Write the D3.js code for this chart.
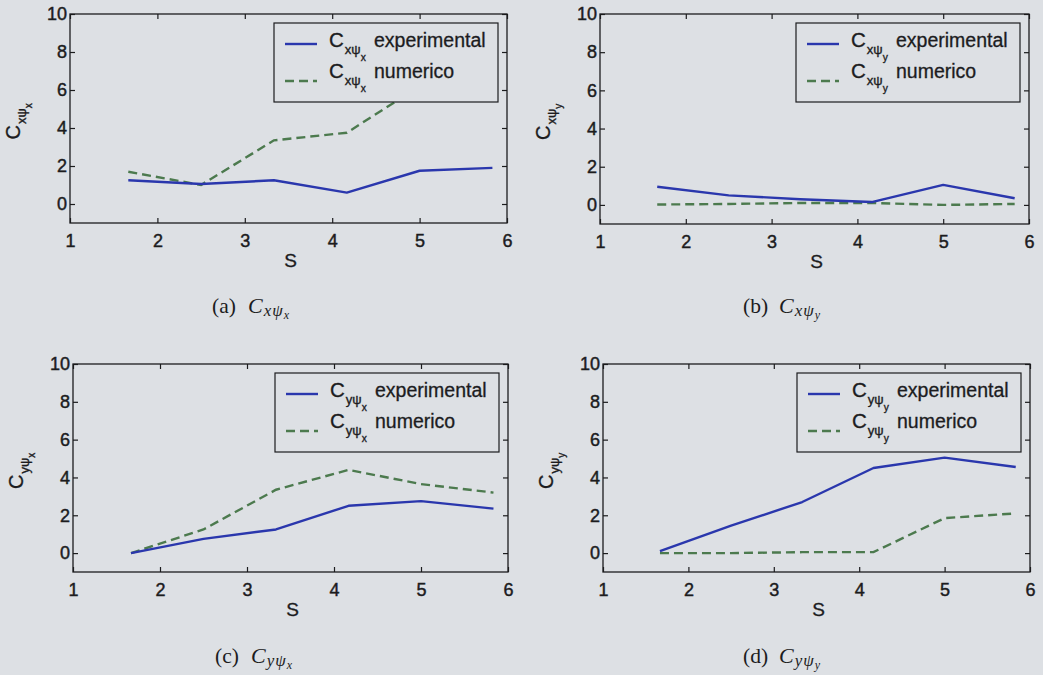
<!DOCTYPE html>
<html>
<head>
<meta charset="utf-8">
<script src="https://cdn.jsdelivr.net/npm/d3@7"></script>
<style>
  html, body { margin: 0; padding: 0; background: #dcdfe3; }
  svg { display: block; }
</style>
</head>
<body>
<svg id="fig" width="1043" height="675"></svg>
<script>
// Rotation speed S shared by all four panels
const S = [1.667, 2.5, 3.333, 4.167, 5.0, 5.833];

// Damping coefficients: experimental vs numerical
const cxpsixExp = [1.25, 1.05, 1.25, 0.6, 1.75, 1.9];
const cxpsixNum = [1.7, 1.0, 3.35, 3.75, 6.2, 7.0];
const cxpsiyExp = [0.95, 0.5, 0.3, 0.15, 1.05, 0.35];
const cxpsiyNum = [0.02, 0.05, 0.1, 0.1, 0.0, 0.05];
const cypsixExp = [0.0, 0.75, 1.25, 2.5, 2.75, 2.35];
const cypsixNum = [0.0, 1.25, 3.35, 4.4, 3.65, 3.2];
const cypsiyExp = [0.1, 1.45, 2.7, 4.5, 5.05, 4.55];
const cypsiyNum = [0.0, 0.0, 0.05, 0.05, 1.85, 2.1];

// Axis ticks
const xTicks = [1, 2, 3, 4, 5, 6];
const yTicks = [0, 2, 4, 6, 8, 10];
const xDomain = [1, 6];
const yDomain = [-1, 10];

// Panel captions / subscripts
const panelLetters = ["a", "b", "c", "d"];
const firstSub = ["xψ", "xψ", "yψ", "yψ"];
const secondSub = ["x", "y", "x", "y"];
const captionSub1 = ["xψ", "xψ", "yψ", "yψ"];
const captionSub2 = ["x", "y", "x", "y"];
const legendWords = ["experimental", "numerico"];

const panels = [
  { box: [70, 507, 14, 223], exp: cxpsixExp, num: cxpsixNum, cap: [212, 313] },
  { box: [600, 1029, 14, 224], exp: cxpsiyExp, num: cxpsiyNum, cap: [743, 313] },
  { box: [73, 508, 364, 572], exp: cypsixExp, num: cypsixNum, cap: [215, 663] },
  { box: [603, 1030, 364, 572], exp: cypsiyExp, num: cypsiyNum, cap: [743, 663] }
];

const SANS = "'Liberation Sans', Arial, sans-serif";
const SERIF = "'Liberation Serif', 'Times New Roman', serif";
const INK = "#1c1c1e";
const BG = "#dde0e4";
const BLUE = "#2a37ad";
const GREEN = "#4c7a4e";

const svg = d3.select("#fig");
svg.append("rect").attr("width", 1043).attr("height", 675).attr("fill", BG);
const defs = svg.append("defs");

// C with a two-level subscript, drawn from pieces
function subscripted(g, x, y, size, sub1, sub2, opts) {
  const t = g.append("text").attr("x", x).attr("y", y)
    .attr("font-family", opts.family)
    .attr("font-size", size).attr("fill", INK)
    .attr("stroke", INK).attr("stroke-width", 0.35);
  t.append("tspan").text("C");
  t.append("tspan").attr("font-size", size * opts.r1).attr("dy", size * opts.d1)
    .attr("dx", opts.gap || 0).text(sub1);
  t.append("tspan").attr("font-size", size * opts.r2).attr("dy", size * opts.d2).text(sub2);
  return t;
}

panels.forEach((p, i) => {
  const [x0, x1, y0, y1] = p.box;
  const x = d3.scaleLinear().domain(xDomain).range([x0, x1]);
  const y = d3.scaleLinear().domain(yDomain).range([y1, y0]);
  const g = svg.append("g");

  const clipId = "clip" + i;
  defs.append("clipPath").attr("id", clipId)
    .append("rect").attr("x", x0).attr("y", y0).attr("width", x1 - x0).attr("height", y1 - y0);

  // data lines
  const line = d3.line().x((d, k) => x(S[k])).y(d => y(d));
  const lines = g.append("g").attr("clip-path", `url(#${clipId})`);
  lines.append("path").datum(p.num).attr("d", line)
    .attr("fill", "none").attr("stroke", GREEN).attr("stroke-width", 2.4)
    .attr("stroke-dasharray", "9,5");
  lines.append("path").datum(p.exp).attr("d", line)
    .attr("fill", "none").attr("stroke", BLUE).attr("stroke-width", 2.4)
    .attr("stroke-linejoin", "round");

  // axes with inward ticks on all four sides
  const styleAxis = sel => {
    sel.select(".domain").remove();
    sel.selectAll(".tick line").attr("stroke", INK).attr("stroke-width", 1.2);
    sel.selectAll("text").attr("fill", INK).attr("font-family", SANS).attr("font-size", 18)
      .attr("stroke", INK).attr("stroke-width", 0.45);
  };
  g.append("g").attr("transform", `translate(0,${y1})`)
    .call(d3.axisBottom(x).tickValues(xTicks).tickFormat(d3.format("d"))
      .tickSizeInner(-5).tickSizeOuter(0).tickPadding(11))
    .call(styleAxis);
  g.append("g").attr("transform", `translate(0,${y0})`)
    .call(d3.axisTop(x).tickValues(xTicks).tickFormat("").tickSizeInner(-5).tickSizeOuter(0))
    .call(styleAxis);
  g.append("g").attr("transform", `translate(${x0},0)`)
    .call(d3.axisLeft(y).tickValues(yTicks).tickFormat(d3.format("d"))
      .tickSizeInner(-5).tickSizeOuter(0).tickPadding(3))
    .call(styleAxis);
  g.append("g").attr("transform", `translate(${x1},0)`)
    .call(d3.axisRight(y).tickValues(yTicks).tickFormat("").tickSizeInner(-5).tickSizeOuter(0))
    .call(styleAxis);

  g.append("rect").attr("x", x0).attr("y", y0).attr("width", x1 - x0).attr("height", y1 - y0)
    .attr("fill", "none").attr("stroke", INK).attr("stroke-width", 1.3);

  // x axis title
  g.append("text").attr("x", (x0 + x1) / 2 + 2).attr("y", y1 + 44)
    .attr("text-anchor", "middle").attr("font-family", SANS).attr("font-size", 19)
    .attr("fill", INK).attr("stroke", INK).attr("stroke-width", 0.35).text("S");

  // y axis title (rotated)
  const yl = g.append("g")
    .attr("transform", `translate(${x0 - 50},${(y0 + y1) / 2 + 1}) rotate(-90)`);
  subscripted(yl, -20, 0, 20, firstSub[i], secondSub[i],
    { family: SANS, r1: 0.65, d1: 0.3, r2: 0.5, d2: 0.3, gap: 1 });

  // legend
  const lw = 224, lh = 79;
  const lx = x1 - 9 - lw, ly = y0 + 9;
  const lg = g.append("g");
  lg.append("rect").attr("x", lx).attr("y", ly).attr("width", lw).attr("height", lh)
    .attr("fill", BG).attr("stroke", INK).attr("stroke-width", 1.2);
  [[BLUE, null], [GREEN, "9,5"]].forEach(([col, dash], r) => {
    const cy = ly + 21 + r * 37;
    lg.append("line").attr("x1", lx + 11).attr("x2", lx + 43).attr("y1", cy).attr("y2", cy)
      .attr("stroke", col).attr("stroke-width", 2.4).attr("stroke-dasharray", dash);
    const by = ly + 24 + r * 31;
    subscripted(lg, lx + 55, by, 20.5, firstSub[i], secondSub[i],
      { family: SANS, r1: 0.64, d1: 0.35, r2: 0.5, d2: 0.35, gap: 1 });
    lg.append("text").attr("x", lx + 100).attr("y", by)
      .attr("font-family", SANS).attr("font-size", 19.5).attr("fill", INK)
      .attr("stroke", INK).attr("stroke-width", 0.3)
      .text(legendWords[r]);
  });

  // caption: upright panel letter, then italic symbol with subscripts
  const [cx, cyb] = p.cap;
  g.append("text").attr("x", cx).attr("y", cyb)
    .attr("font-family", SERIF).attr("font-size", 21.5).attr("fill", INK)
    .text(`(${panelLetters[i]})`);
  const cap = g.append("text").attr("x", cx + 36).attr("y", cyb)
    .attr("font-family", SERIF).attr("font-style", "italic")
    .attr("font-size", 22).attr("fill", INK);
  cap.append("tspan").text("C");
  cap.append("tspan").attr("font-size", 17).attr("dy", 3).attr("dx", 1)
    .attr("letter-spacing", 1).text(captionSub1[i]);
  cap.append("tspan").attr("font-size", 12).attr("dy", 3).text(captionSub2[i]);
});
</script>
</body>
</html>
